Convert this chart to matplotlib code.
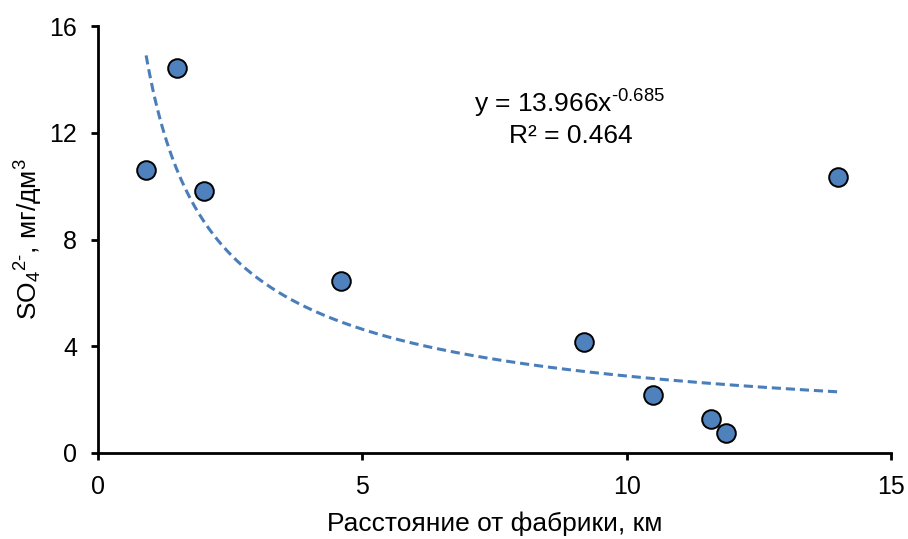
import matplotlib
matplotlib.use("Agg")
import matplotlib.pyplot as plt
import numpy as np

plt.rcParams['font.family'] = ['Liberation Sans', 'DejaVu Sans']
plt.rcParams['mathtext.fontset'] = 'custom'
plt.rcParams['mathtext.rm'] = 'Liberation Sans'
plt.rcParams['mathtext.it'] = 'Liberation Sans'
plt.rcParams['mathtext.bf'] = 'Liberation Sans'

distance_km = [0.91, 1.49, 2.0, 4.6, 9.19, 10.5, 11.6, 11.88, 14.0]
so4 = [10.6, 14.42, 9.82, 6.44, 4.16, 2.17, 1.27, 0.75, 10.34]
fit_a = 13.966
fit_b = -0.685
r2 = 0.464

fig = plt.figure(figsize=(9.08, 5.39), dpi=100)
ax = fig.add_axes([98/908, 1-453/539, (891-98)/908, (453-26)/539])

xf = np.linspace(min(distance_km), max(distance_km), 300)
yf = fit_a * xf ** fit_b
ax.plot(xf, yf, linestyle=(0, (3, 1.6)), color='#4a7ebb', linewidth=2.2, zorder=2)

ax.scatter(distance_km, so4, s=180, facecolor='#4f81bd', edgecolor='black', linewidth=1.4, zorder=3)

ax.set_xlim(0, 15)
ax.set_ylim(0, 16)
ax.set_xticks([0, 5, 10, 15])
ax.set_yticks([0, 4, 8, 12, 16])
for s in ['top', 'right']:
    ax.spines[s].set_visible(False)
for s in ['left', 'bottom']:
    ax.spines[s].set_linewidth(2.0)
ax.tick_params(axis='both', direction='out', length=5, width=2.0, labelsize=18)
ax.tick_params(axis='x', pad=11)
ax.tick_params(axis='y', pad=10)

ax.set_xlabel('Расстояние от фабрики, км', fontsize=19, labelpad=9)
ax.set_ylabel('SO$_4$$^{\\text{2-}}$, мг/дм$^3$', fontsize=19, labelpad=3)

ax.text(570/908, 1-113/539, 'y = 13.966x$^{\\text{-0.685}}$', transform=fig.transFigure,
        ha='center', va='baseline', fontsize=19)
ax.text(571/908, 1-143/539, f'R² = {r2:.3f}', transform=fig.transFigure,
        ha='center', va='baseline', fontsize=19)

fig.savefig('out.png', dpi=100)
